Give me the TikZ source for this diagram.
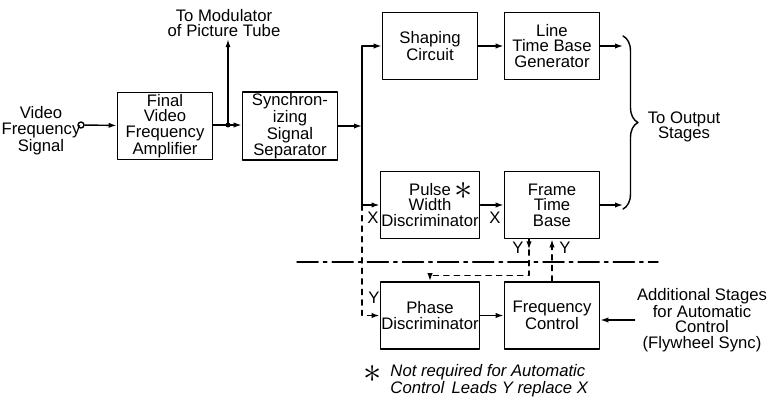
\documentclass[tikz,border=0pt]{standalone}
\usepackage{fontspec}
\setmainfont{Liberation Sans}
\usetikzlibrary{arrows.meta,calc,decorations.pathreplacing}
\begin{document}
\begin{tikzpicture}[x=0.02cm, y=-0.02cm, line cap=round, line join=round,
    font=\fontsize{9.5pt}{8.8pt}\selectfont,
    arr/.style={-{Latex[length=4.5pt,width=3pt]}},
    blk/.style={draw, line width=1pt, minimum width=1.9cm, minimum height=1.34cm,
      inner sep=0.5pt, align=center},
    lbl/.style={inner sep=1pt, align=center}]
  \useasboundingbox (0,0) rectangle (775,402);
  \begin{scope}[line width=0.8pt]
  \node[lbl] (vfs) at (41,131) {Video\\Frequency\\Signal};
  \node[draw, circle, inner sep=0pt, minimum size=0.12cm] (vin) at (81,125) {};
  \node[blk] (amp) at (165,126) {Final\\Video\\Frequency\\Amplifier};
  \node[blk] (sep) at (290,126) {Synchron-\\izing\\Signal\\Separator};
  \node[blk] (shape) at (430,46) {Shaping\\Circuit};
  \node[blk] (ltb) at (552,46) {Line\\Time Base\\Generator};
  \node[blk] (pwd) at (430,205) {Pulse\\Width\\Discriminator};
  \node[blk] (ftb) at (552,205) {Frame\\Time\\Base};
  \node[blk] (phase) at (430,315.5) {Phase\\Discriminator};
  \node[blk] (freq) at (552,315.5) {Frequency\\Control};
  \node[lbl] (mod) at (224,23) {To Modulator\\of Picture Tube};
  \node[lbl] (outs) at (684,127) {To Output\\Stages};
  \node[lbl] (add) at (702,320) {Additional Stages\\for Automatic\\Control\\(Flywheel Sync)};
  \node[inner sep=0pt, font=\huge] (pstar) at (464,191) {$\ast$};
  \node[inner sep=0pt, font=\huge] (fstar) at (373,374) {$\ast$};
  \node[lbl, anchor=west, align=left, font=\fontsize{9.5pt}{8.8pt}\selectfont\itshape]
    (note) at (388,381) {Not required for Automatic\\Control\, Leads Y replace X};
  \node[lbl] (x1) at (373,218) {X};
  \node[lbl] (x2) at (495,218) {X};
  \node[lbl] (y1) at (374,298) {Y};
  \node[lbl] (y2) at (518,248) {Y};
  \node[lbl] (y3) at (565,248) {Y};
  \coordinate (jn) at (228,125);
  \coordinate (bt) at (362,46);
  \coordinate (bb) at (362,205);
  \coordinate (fa) at ($(ftb.south)+(-23,0)$);
  \coordinate (brt) at (623,36);
  \coordinate (brb) at (623,209);
  \coordinate (dl) at (297,262);
  \coordinate (dr) at (658,262);
  \draw[arr] (vin) -- (amp);
  \fill (jn) circle (0.05cm);
  \draw (amp.east |- jn) -- (jn);
  \draw[arr] (jn) -- (sep.west |- jn);
  \draw[arr] (jn) -- (jn |- mod.south);
  \draw[arr] (sep) -- (sep -| bt);
  \draw (bt) -- (bb);
  \draw[arr] (bt) -- (shape);
  \draw[arr] (bb) -- (pwd);
  \draw[dashed, arr] (bb) -- (bb |- phase) -- (phase);
  \draw[arr] (shape) -- (ltb);
  \draw[arr] (pwd) -- (ftb);
  \draw[arr] (phase) -- (freq);
  \draw[arr] (ltb) -- (ltb -| brt);
  \draw[arr] (ftb) -- (ftb -| brt);
  \draw[decorate, decoration={brace, amplitude=0.3cm}] (brt) -- (brb);
  \draw[arr] (fa) -- ++(0,10);
  \draw[dashed, arr] (fa) -- ++(0,36) -| (phase.north);
  \draw[dashed] (freq.north) -- (ftb.south);
  \draw[arr] ($(ftb.south)+(0,10)$) -- (ftb.south);
  \draw[arr] (add.west) -- (freq.east |- add.west);
  \draw[dash pattern=on 12pt off 3pt on 2pt off 3pt] (dl) -- (dr);
  \end{scope}
\end{tikzpicture}
\end{document}
